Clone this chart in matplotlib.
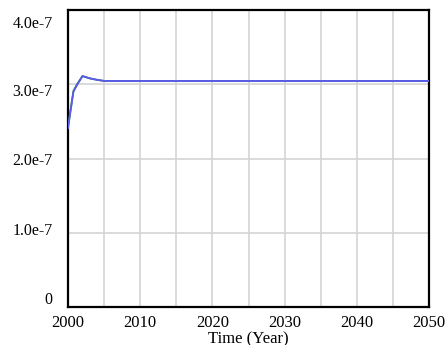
import matplotlib.pyplot as plt
import matplotlib.transforms as mtransforms
import numpy as np

# values
years = [2000, 2000.75, 2001.25, 2002, 2003, 2004, 2005, 2050]
series_a = [2.41e-7, 2.90e-7, 2.99e-7, 3.11e-7, 3.08e-7, 3.06e-7, 3.045e-7, 3.045e-7]
series_b = [2.43e-7, 2.91e-7, 3.00e-7, 3.11e-7, 3.08e-7, 3.06e-7, 3.045e-7, 3.045e-7]
xticks = [2000, 2010, 2020, 2030, 2040, 2050]
yticks = [0, 1e-7, 2e-7, 3e-7, 4e-7]
ylabels = ['0', '1.0e-7', '2.0e-7', '3.0e-7', '4.0e-7']

plt.rcParams['font.family'] = ['Liberation Serif', 'DejaVu Serif']

fig = plt.figure(figsize=(4.46, 3.45), dpi=100)
ax = fig.add_axes([0.1525, 0.110, 0.8095, 0.861])

ax.plot(years, series_b, color='#2e7d32', lw=1.3, zorder=3)
ax.plot(years, series_a, color='#5a5af0', lw=1.3, zorder=4)

ax.set_xlim(2000, 2050)
ax.set_ylim(0, 4e-7)
ax.set_xticks(xticks)
ax.set_xticks(np.arange(2000, 2051, 5), minor=True)
ax.set_yticks(yticks)
ax.set_yticklabels(ylabels)

ax.grid(True, which='both', axis='x', color='#d4d4d4', lw=1.2)
ax.grid(True, axis='y', color='#d4d4d4', lw=1.2)
ax.tick_params(axis='both', which='both', length=0, labelsize=12, colors='black')
ax.tick_params(axis='y', pad=11, labelsize=11.5)
ax.tick_params(axis='x', pad=6)

# labels in the source sit evenly spaced, not quite on the gridlines
offsets = [9, 4, 0, -6, -12]
for lab, dy in zip(ax.get_yticklabels(), offsets):
    lab.set_transform(lab.get_transform() +
                      mtransforms.ScaledTranslation(0, dy / 100, fig.dpi_scale_trans))

for s in ax.spines.values():
    s.set_color('black')
    s.set_linewidth(1.6)

ax.set_xlabel('Time (Year)', fontsize=12, labelpad=0)

fig.savefig('out.png', dpi=100)
